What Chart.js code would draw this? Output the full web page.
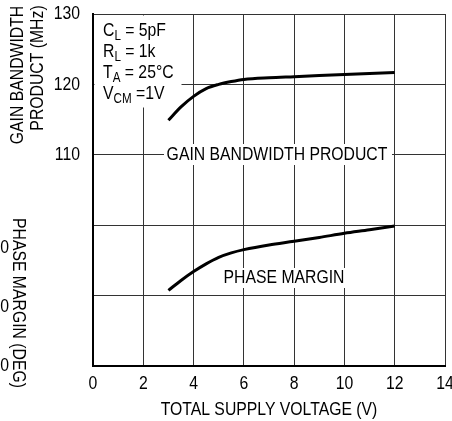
<!DOCTYPE html>
<html><head><meta charset="utf-8">
<script src="https://cdn.jsdelivr.net/npm/chart.js@4.4.1/dist/chart.umd.min.js"></script>
<style>html,body{margin:0;padding:0;background:#fff}#wrap{width:452px;height:421px}</style>
</head><body><div id="wrap"><canvas id="c" width="452" height="421"></canvas></div>
<script>
const voltage = [3, 3.5, 4, 4.5, 5, 5.5, 6, 7, 8, 9, 10, 11, 12];
const gbwMHz = [114.9, 116.8, 118.3, 119.4, 120.0, 120.4, 120.7, 120.95, 121.1, 121.25, 121.4, 121.55, 121.7];
const phaseDeg = [52.75, 54.4, 55.9, 57.2, 58.3, 59.05, 59.6, 60.4, 61.0, 61.65, 62.35, 62.95, 63.6];
const xTicks = [0, 2, 4, 6, 8, 10, 12, 14];
const gbwTickLabels = [110, 120, 130];
const phaseTickLabels = [60, 50, 40];

const FONT = '"Liberation Sans", Arial, sans-serif';
const FS = 19, SX = 0.83;

function txt(ctx, t, x, y, align, size) {
  ctx.save();
  ctx.font = (size || FS) + 'px ' + FONT;
  ctx.textAlign = align || 'left';
  ctx.textBaseline = 'middle';
  ctx.translate(x, y);
  ctx.scale(SX, 1);
  ctx.fillText(t, 0, 0);
  ctx.restore();
}
function sub(ctx, x, y, parts) {
  let cx = x;
  for (const [t, s] of parts) {
    const size = s ? Math.round(FS * 0.72) : FS;
    txt(ctx, t, cx, s ? y + FS * 0.28 : y, 'left', size);
    ctx.font = size + 'px ' + FONT;
    cx += ctx.measureText(t).width * SX;
  }
}

const overlay = {
  id: 'overlay',
  beforeDatasetsDraw(chart) {
    const ctx = chart.ctx, a = chart.chartArea;
    ctx.save();
    ctx.fillStyle = '#fff';
    ctx.fillRect(a.left + 1.5, a.top + 1.5, 87, 92);
    ctx.fillRect(164, 144, 228, 21);
    ctx.fillRect(222, 268, 124, 20);
    ctx.restore();
  },
  afterDraw(chart) {
    const ctx = chart.ctx, a = chart.chartArea;
    const xs = chart.scales.x, ys = chart.scales.y, y2 = chart.scales.y2;
    ctx.save();
    ctx.fillStyle = '#000';
    // condition box
    sub(ctx, 103, 31, [['C', 0], ['L', 1], [' = 5pF', 0]]);
    sub(ctx, 103, 52, [['R', 0], ['L', 1], [' = 1k', 0]]);
    sub(ctx, 103, 73, [['T', 0], ['A', 1], [' = 25°C', 0]]);
    sub(ctx, 103, 94, [['V', 0], ['CM', 1], [' =1V', 0]]);
    // curve labels
    txt(ctx, 'GAIN BANDWIDTH PRODUCT', 277, 155, 'center');
    txt(ctx, 'PHASE MARGIN', 284, 278, 'center');
    // tick labels
    for (const v of xTicks) txt(ctx, String(v), xs.getPixelForValue(v), 384, 'center');
    for (const v of gbwTickLabels) txt(ctx, String(v), 80, ys.getPixelForValue(v), 'right');
    for (const v of phaseTickLabels) txt(ctx, String(v), 9, y2.getPixelForValue(v), 'right');
    // axis titles
    ctx.save();
    ctx.translate(18, 75);
    ctx.rotate(-Math.PI / 2);
    txt(ctx, 'GAIN BANDWIDTH', 0, 0, 'center');
    ctx.restore();
    ctx.save();
    ctx.translate(38, 68);
    ctx.rotate(-Math.PI / 2);
    txt(ctx, 'PRODUCT (MHz)', 0, 0, 'center');
    ctx.restore();
    ctx.save();
    ctx.translate(18, 303);
    ctx.rotate(Math.PI / 2);
    txt(ctx, 'PHASE MARGIN (DEG)', 0, 0, 'center');
    ctx.restore();
    txt(ctx, 'TOTAL SUPPLY VOLTAGE (V)', (a.left + a.right) / 2, 410, 'center');
    ctx.restore();
  }
};

new Chart(document.getElementById('c'), {
  type: 'line',
  data: {
    datasets: [
      { label: 'GBW', data: voltage.map((v, i) => ({ x: v, y: gbwMHz[i] })), yAxisID: 'y',
        borderColor: '#000', borderWidth: 3, pointRadius: 0, cubicInterpolationMode: 'monotone', fill: false },
      { label: 'PM', data: voltage.map((v, i) => ({ x: v, y: phaseDeg[i] })), yAxisID: 'y2',
        borderColor: '#000', borderWidth: 3, pointRadius: 0, cubicInterpolationMode: 'monotone', fill: false }
    ]
  },
  options: {
    responsive: false, animation: false, devicePixelRatio: 1,
    layout: { padding: { top: 14, right: 7, left: 0, bottom: 0 } },
    plugins: { legend: { display: false }, tooltip: { enabled: false } },
    scales: {
      x: {
        type: 'linear', min: 0, max: 14,
        afterBuildTicks: s => { s.ticks = xTicks.map(v => ({ value: v })); },
        afterFit: s => { s.height = 55; },
        grid: { color: '#333', lineWidth: 1, drawTicks: false },
        border: { color: '#000', width: 2 },
        ticks: { display: false }
      },
      y: {
        type: 'linear', min: 80, max: 130,
        ticks: { stepSize: 10, display: false },
        afterFit: s => { s.width = 93; },
        grid: { color: '#333', lineWidth: 1, drawTicks: false },
        border: { color: '#000', width: 2 }
      },
      y2: { type: 'linear', min: 40, max: 99.3, display: false }
    }
  },
  plugins: [overlay]
});
</script></body></html>
